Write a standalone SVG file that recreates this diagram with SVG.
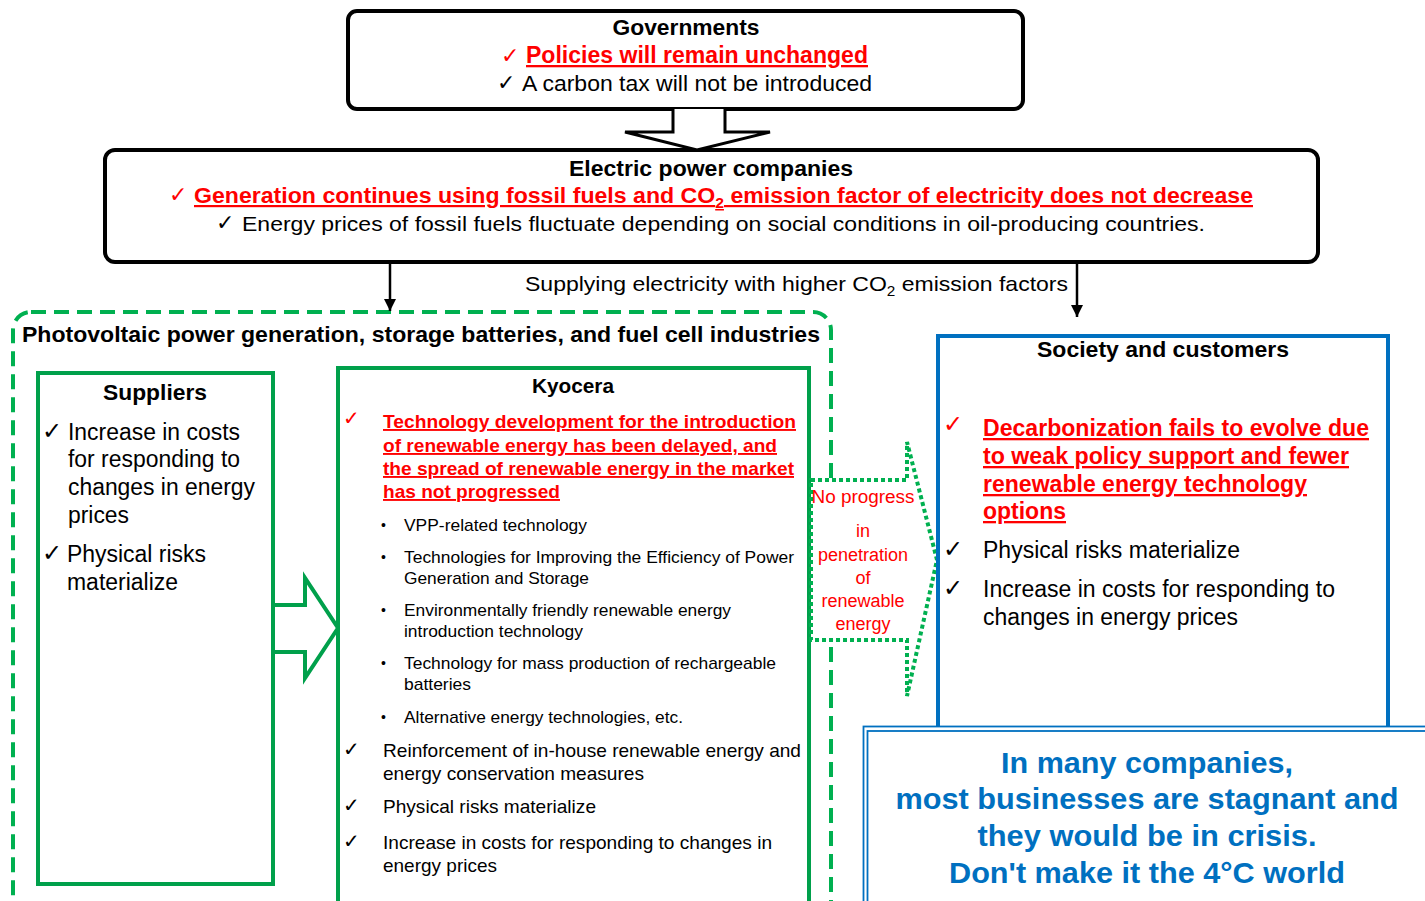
<svg xmlns="http://www.w3.org/2000/svg" width="1425" height="901" viewBox="0 0 1425 901">
<style>
text{font-family:"Liberation Sans",Arial,"DejaVu Sans",sans-serif;fill:#000}
.b{font-weight:bold}
.r{fill:#FF0000}
.u{text-decoration:underline}
.c{text-anchor:middle}
.ck{font-family:"DejaVu Sans",sans-serif}
.blk{fill:none;stroke:#000;stroke-width:4}
.grn{fill:#fff;stroke:#00A04B;stroke-width:4}
.blu{fill:#0070C0}
</style>
<defs>
<marker id="ah" viewBox="0 0 10 10" refX="10" refY="5" markerWidth="5" markerHeight="5" orient="auto" markerUnits="strokeWidth">
<path d="M0,0 L10,5 L0,10 z" fill="#000"/>
</marker>
</defs>
<rect width="1425" height="901" fill="#fff"/>

<!-- big dashed industry box -->
<g id="industry">
<rect x="13" y="312" width="818" height="610" rx="18" fill="none" stroke="#00B050" stroke-width="4" stroke-dasharray="15 8"/>
<text class="b" x="22" y="342" font-size="22" textLength="798" lengthAdjust="spacingAndGlyphs">Photovoltaic power generation, storage batteries, and fuel cell industries</text>
</g>

<g id="governments">
<rect x="348" y="11" width="675" height="98" rx="9" class="blk"/>
<text class="b c" x="686" y="35" font-size="22" textLength="147" lengthAdjust="spacingAndGlyphs">Governments</text>
<text class="r ck" x="501" y="63" font-size="22">✓</text>
<text class="b r u" x="526" y="63" font-size="23" textLength="342" lengthAdjust="spacingAndGlyphs">Policies will remain unchanged</text>
<text class="ck" x="497" y="90" font-size="22">✓</text>
<text x="522" y="91" font-size="22" textLength="350" lengthAdjust="spacingAndGlyphs">A carbon tax will not be introduced</text>
</g>

<g id="electric">
<rect x="105" y="150" width="1213" height="112" rx="10" class="blk"/>
<text class="b c" x="711" y="176" font-size="22" textLength="284" lengthAdjust="spacingAndGlyphs">Electric power companies</text>
<text class="r ck" x="169" y="202" font-size="22">✓</text>
<text class="b r u" x="194" y="203" font-size="22" textLength="1059" lengthAdjust="spacingAndGlyphs">Generation continues using fossil fuels and CO<tspan font-size="15" dy="5">2</tspan><tspan dy="-5"> emission factor of electricity does not decrease</tspan></text>
<text class="ck" x="216" y="230" font-size="22">✓</text>
<text x="242" y="231" font-size="21" textLength="963" lengthAdjust="spacingAndGlyphs">Energy prices of fossil fuels fluctuate depending on social conditions in oil-producing countries.</text>
</g>

<g id="connectors">
<path d="M673,109 V132 H625 L697,150 L770,132 H725 V109" fill="#fff" stroke="#000" stroke-width="3" stroke-linejoin="miter"/>
<line x1="390" y1="263" x2="390" y2="311" stroke="#000" stroke-width="2.5" marker-end="url(#ah)"/>
<line x1="1077" y1="263" x2="1077" y2="317" stroke="#000" stroke-width="2.5" marker-end="url(#ah)"/>
<text x="525" y="291" font-size="21" textLength="543" lengthAdjust="spacingAndGlyphs">Supplying electricity with higher CO<tspan font-size="14" dy="5">2</tspan><tspan dy="-5"> emission factors</tspan></text>
<path d="M275,605 H305 V578 L338,628 L305,678 V652 H275" fill="#fff" stroke="#00A04B" stroke-width="4"/>
</g>

<g id="suppliers">
<rect x="38" y="373" width="235" height="511" class="grn" fill="none"/>
<text class="b c" x="155" y="400" font-size="22" textLength="104" lengthAdjust="spacingAndGlyphs">Suppliers</text>
<text class="ck" x="42" y="439" font-size="24">✓</text>
<text x="68" y="440" font-size="23" textLength="172" lengthAdjust="spacingAndGlyphs">Increase in costs</text>
<text x="68" y="467" font-size="23" textLength="172" lengthAdjust="spacingAndGlyphs">for responding to</text>
<text x="68" y="495" font-size="23" textLength="187" lengthAdjust="spacingAndGlyphs">changes in energy</text>
<text x="68" y="523" font-size="23" textLength="61" lengthAdjust="spacingAndGlyphs">prices</text>
<text class="ck" x="42" y="561" font-size="24">✓</text>
<text x="67" y="562" font-size="23" textLength="139" lengthAdjust="spacingAndGlyphs">Physical risks</text>
<text x="67" y="590" font-size="23" textLength="111" lengthAdjust="spacingAndGlyphs">materialize</text>
</g>

<g id="kyocera">
<rect x="338" y="368" width="471" height="560" class="grn"/>
<text class="b c" x="573" y="393" font-size="21" textLength="82" lengthAdjust="spacingAndGlyphs">Kyocera</text>
<text class="r ck" x="343" y="425" font-size="20">✓</text>
<text class="b r u" x="383" y="428" font-size="19" textLength="413" lengthAdjust="spacingAndGlyphs">Technology development for the introduction</text>
<text class="b r u" x="383" y="452" font-size="19" textLength="394" lengthAdjust="spacingAndGlyphs">of renewable energy has been delayed, and</text>
<text class="b r u" x="383" y="475" font-size="19" textLength="411" lengthAdjust="spacingAndGlyphs">the spread of renewable energy in the market</text>
<text class="b r u" x="383" y="498" font-size="19" textLength="177" lengthAdjust="spacingAndGlyphs">has not progressed</text>
<text x="381" y="530" font-size="14">•</text>
<text x="404" y="531" font-size="17" textLength="183" lengthAdjust="spacingAndGlyphs">VPP-related technology</text>
<text x="381" y="562" font-size="14">•</text>
<text x="404" y="563" font-size="17" textLength="390" lengthAdjust="spacingAndGlyphs">Technologies for Improving the Efficiency of Power</text>
<text x="404" y="584" font-size="17" textLength="185" lengthAdjust="spacingAndGlyphs">Generation and Storage</text>
<text x="381" y="615" font-size="14">•</text>
<text x="404" y="616" font-size="17" textLength="327" lengthAdjust="spacingAndGlyphs">Environmentally friendly renewable energy</text>
<text x="404" y="637" font-size="17" textLength="179" lengthAdjust="spacingAndGlyphs">introduction technology</text>
<text x="381" y="668" font-size="14">•</text>
<text x="404" y="669" font-size="17" textLength="372" lengthAdjust="spacingAndGlyphs">Technology for mass production of rechargeable</text>
<text x="404" y="690" font-size="17" textLength="67" lengthAdjust="spacingAndGlyphs">batteries</text>
<text x="381" y="722" font-size="14">•</text>
<text x="404" y="723" font-size="17" textLength="279" lengthAdjust="spacingAndGlyphs">Alternative energy technologies, etc.</text>
<text class="ck" x="343" y="756" font-size="20">✓</text>
<text x="383" y="757" font-size="19" textLength="418" lengthAdjust="spacingAndGlyphs">Reinforcement of in-house renewable energy and</text>
<text x="383" y="780" font-size="19" textLength="261" lengthAdjust="spacingAndGlyphs">energy conservation measures</text>
<text class="ck" x="343" y="812" font-size="20">✓</text>
<text x="383" y="813" font-size="19" textLength="213" lengthAdjust="spacingAndGlyphs">Physical risks materialize</text>
<text class="ck" x="343" y="848" font-size="20">✓</text>
<text x="383" y="849" font-size="19" textLength="389" lengthAdjust="spacingAndGlyphs">Increase in costs for responding to changes in</text>
<text x="383" y="872" font-size="19" textLength="114" lengthAdjust="spacingAndGlyphs">energy prices</text>
</g>

<g id="no-progress">
<path d="M811,480 H907 V442 L937,560 L907,696 V640 H811 Z" fill="#fff" stroke="#00B050" stroke-width="4" stroke-dasharray="4 3"/>
<text class="r c" x="863" y="503" font-size="18" textLength="103" lengthAdjust="spacingAndGlyphs">No progress</text>
<text class="r c" x="863" y="537" font-size="18">in</text>
<text class="r c" x="863" y="561" font-size="18">penetration</text>
<text class="r c" x="863" y="584" font-size="18">of</text>
<text class="r c" x="863" y="607" font-size="18">renewable</text>
<text class="r c" x="863" y="630" font-size="18">energy</text>
</g>

<g id="society">
<path d="M938,727 V336 H1388 V727" fill="#fff" stroke="#0070C0" stroke-width="4"/>
<text class="b c" x="1163" y="357" font-size="22" textLength="252" lengthAdjust="spacingAndGlyphs">Society and customers</text>
<text class="r ck" x="943" y="432" font-size="24">✓</text>
<text class="b r u" x="983" y="436" font-size="23" textLength="386" lengthAdjust="spacingAndGlyphs">Decarbonization fails to evolve due</text>
<text class="b r u" x="983" y="464" font-size="23" textLength="366" lengthAdjust="spacingAndGlyphs">to weak policy support and fewer</text>
<text class="b r u" x="983" y="492" font-size="23" textLength="324" lengthAdjust="spacingAndGlyphs">renewable energy technology</text>
<text class="b r u" x="983" y="519" font-size="23" textLength="83" lengthAdjust="spacingAndGlyphs">options</text>
<text class="ck" x="943" y="557" font-size="24">✓</text>
<text x="983" y="558" font-size="23" textLength="257" lengthAdjust="spacingAndGlyphs">Physical risks materialize</text>
<text class="ck" x="943" y="596" font-size="24">✓</text>
<text x="983" y="597" font-size="23" textLength="352" lengthAdjust="spacingAndGlyphs">Increase in costs for responding to</text>
<text x="983" y="625" font-size="23" textLength="255" lengthAdjust="spacingAndGlyphs">changes in energy prices</text>
</g>

<g id="conclusion">
<rect x="863.5" y="726.5" width="600" height="200" fill="#fff" stroke="#0070C0" stroke-width="1.8"/>
<rect x="867.5" y="731" width="600" height="200" fill="none" stroke="#0070C0" stroke-width="1.8"/>
<text class="b c blu" x="1147" y="773" font-size="30" textLength="292" lengthAdjust="spacingAndGlyphs">In many companies,</text>
<text class="b c blu" x="1147" y="809" font-size="30" textLength="503" lengthAdjust="spacingAndGlyphs">most businesses are stagnant and</text>
<text class="b c blu" x="1147" y="846" font-size="30" textLength="339" lengthAdjust="spacingAndGlyphs">they would be in crisis.</text>
<text class="b c blu" x="1147" y="883" font-size="30" textLength="396" lengthAdjust="spacingAndGlyphs">Don't make it the 4°C world</text>
</g>
</svg>
